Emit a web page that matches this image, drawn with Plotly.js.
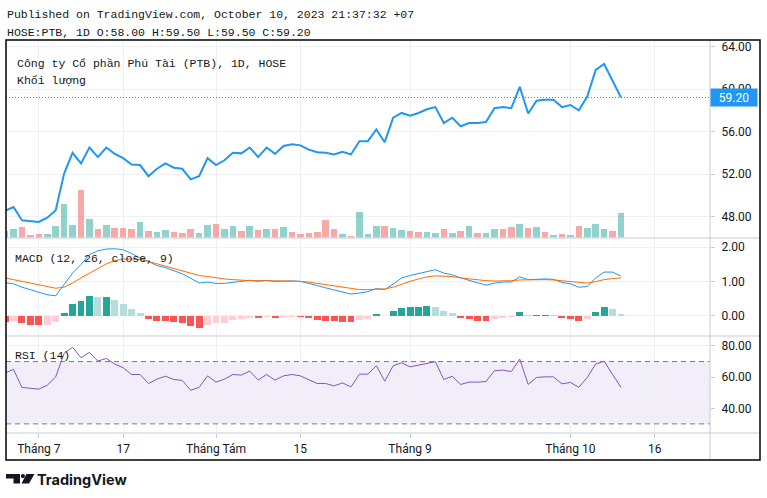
<!DOCTYPE html>
<html><head><meta charset="utf-8">
<script src="https://cdn.plot.ly/plotly-3.0.1.min.js"></script>
<style>html,body{margin:0;padding:0;background:#fff}#chart{width:767px;height:498px}</style>
</head><body><div id="chart"></div>
<script>
// ---- data (bar index 0 = 27 Jun 2023 ... 73 = 10 Oct 2023) ----
const closes = [48.55,48.9,47.65,47.55,47.5,47.9,48.6,52.05,54.0,53.0,
  54.5,53.6,54.5,53.9,53.5,52.9,52.85,51.8,52.5,53.0,
  52.6,52.5,51.5,51.8,53.5,52.85,53.3,54.0,53.95,54.5,
  53.6,54.5,53.9,54.65,54.8,54.7,54.3,54.05,54.0,53.85,
  54.1,53.85,55.1,55.1,56.2,55.0,57.3,57.75,57.5,57.75,
  58.1,58.3,56.8,57.3,56.5,56.8,56.8,56.9,58.2,58.3,
  58.2,60.2,57.7,58.9,59.0,59.0,58.3,58.5,58.0,59.3,
  61.8,62.35,60.75,59.2];
const volumes = [200,280,340,100,130,130,370,1030,400,1450,
  580,280,400,310,310,280,490,220,190,250,
  190,160,280,160,400,430,280,370,220,370,
  250,280,280,340,190,130,160,190,550,280,
  130,70,790,130,370,370,310,250,220,190,
  190,160,280,160,220,370,160,160,280,280,
  340,430,310,340,190,100,130,100,370,310,
  430,280,220,760];
const volumeDir = [1,1,-1,-1,-1,1,1,1,1,-1,
  1,-1,1,-1,-1,-1,1,-1,1,1,
  -1,-1,-1,1,1,-1,1,1,-1,1,
  -1,1,-1,1,-1,-1,-1,-1,-1,-1,
  1,-1,1,1,1,-1,1,1,-1,-1,
  1,1,-1,1,-1,1,-1,1,1,-1,
  -1,1,-1,1,-1,1,-1,1,-1,1,
  1,1,-1,1];
const macdLine = [0.96,0.93,0.83,0.76,0.68,0.61,0.58,0.90,1.24,1.49,
  1.78,1.89,1.94,1.95,1.92,1.81,1.68,1.58,1.46,1.40,
  1.32,1.22,1.09,0.95,0.98,0.94,0.94,0.97,0.99,1.03,
  1.00,1.03,1.00,1.01,1.01,1.00,0.95,0.88,0.81,0.75,
  0.69,0.63,0.66,0.70,0.79,0.76,0.92,1.10,1.17,1.23,
  1.29,1.34,1.24,1.19,1.10,1.03,0.95,0.89,0.95,0.98,
  0.98,1.13,1.05,1.07,1.07,1.06,0.97,0.93,0.83,0.85,
  1.10,1.27,1.27,1.15];
const signalLine = [1.10,1.05,1.00,0.94,0.89,0.83,0.80,0.83,0.95,1.10,
  1.24,1.39,1.51,1.60,1.65,1.65,1.63,1.58,1.51,1.44,
  1.36,1.29,1.22,1.17,1.14,1.10,1.07,1.05,1.03,1.02,
  1.02,1.01,1.01,1.01,1.01,1.00,0.98,0.94,0.90,0.86,
  0.82,0.78,0.76,0.76,0.76,0.78,0.83,0.92,1.00,1.07,
  1.13,1.16,1.16,1.14,1.10,1.07,1.04,1.02,1.01,1.01,
  1.02,1.04,1.05,1.05,1.05,1.04,1.02,0.99,0.96,0.95,
  0.99,1.05,1.08,1.10];
const macdHist = [-0.17,-0.15,-0.21,-0.26,-0.27,-0.26,-0.19,0.09,0.35,0.44,
  0.56,0.54,0.55,0.47,0.35,0.20,0.09,-0.10,-0.16,-0.165,
  -0.18,-0.21,-0.30,-0.35,-0.27,-0.22,-0.21,-0.13,-0.10,-0.07,
  -0.075,-0.04,-0.07,-0.045,-0.04,-0.045,-0.07,-0.13,-0.16,-0.165,
  -0.18,-0.19,-0.12,-0.10,0.05,-0.02,0.135,0.21,0.26,0.265,
  0.28,0.26,0.135,0.07,-0.07,-0.10,-0.155,-0.16,-0.10,-0.07,
  -0.04,0.105,0.02,0.025,0.03,0.02,-0.07,-0.10,-0.155,-0.10,
  0.105,0.25,0.19,0.05];
const rsi = [62.6,65.0,53.4,52.7,52.3,54.8,60.2,75.3,79.2,72.5,
  75.9,70.3,72.0,68.4,66.0,61.7,61.7,55.9,58.7,60.6,
  58.5,57.9,51.6,53.4,60.8,56.8,58.7,61.7,61.3,63.9,
  58.1,61.7,58.1,60.8,61.7,60.8,58.1,55.9,55.9,54.4,
  56.3,53.7,61.9,61.9,67.3,57.4,67.3,69.2,66.6,67.7,
  69.0,69.9,58.5,60.6,55.3,56.8,56.8,57.2,64.1,64.5,
  63.6,71.6,55.3,59.8,60.2,60.2,55.7,56.6,53.5,59.8,
  68.4,70.3,61.7,53.4];
const tickIndex = [4,14,25,35,48,67,77];
const tickLabels = ['Tháng 7','17','Tháng Tám','15','Tháng 9','Tháng 10','16'];
const priceTicks = [48,52,56,60,64];
const macdTicks = [0,1,2];
const rsiTicks = [40,60,80];
const rsiBand = [30,70];
const lastClose = 59.20;
const headerLine1 = 'Published on TradingView.com, October 10, 2023 21:37:32 +07';
const headerLine2 = 'HOSE:PTB, 1D O:58.00 H:59.50 L:59.50 C:59.20';
const legendTitle = 'C\u00f4ng ty C\u1ed5 ph\u1ea7n Ph\u00fa T\u00e0i (PTB), 1D, HOSE';
const legendVolume = 'Kh\u1ed1i l\u01b0\u1ee3ng';
const macdTitle = 'MACD (12, 26, close, 9)';
const rsiTitle = 'RSI (14)';

// ---- helpers ----
const idx = closes.map((_, i) => i);
const L = 6, R = 710, T = 40, B = 433;
const px = x => (x - L) / (R - L);
const py = y => (B - y) / (B - T);
const mono = 'Liberation Mono, DejaVu Sans Mono, monospace';
const textCol = '#131722';
const gridCol = '#eef0f4';

const volColors = volumeDir.map(d => d > 0 ? 'rgba(38,166,154,0.5)' : 'rgba(239,83,80,0.5)');
const histColors = macdHist.map((v, i) => {
  const prev = i === 0 ? v + 0.01 : macdHist[i - 1];
  if (v >= 0) return v >= prev ? '#26a69a' : '#b2dfdb';
  return v < prev ? '#ff5252' : '#ffcdd2';
});

const traces = [
  {type: 'bar', x: idx, y: volumes, xaxis: 'x', yaxis: 'y', width: 0.78,
   marker: {color: volColors, line: {width: 0}}, hoverinfo: 'skip'},
  {type: 'scatter', mode: 'lines', x: idx, y: closes, xaxis: 'x', yaxis: 'y2',
   line: {color: '#2196f3', width: 2}, hoverinfo: 'skip'},
  {type: 'bar', x: idx, y: macdHist, xaxis: 'x', yaxis: 'y3', width: 0.82,
   marker: {color: histColors, line: {width: 0}}, hoverinfo: 'skip'},
  {type: 'scatter', mode: 'lines', x: idx, y: macdLine, xaxis: 'x', yaxis: 'y3',
   line: {color: '#2196f3', width: 1}, hoverinfo: 'skip'},
  {type: 'scatter', mode: 'lines', x: idx, y: signalLine, xaxis: 'x', yaxis: 'y3',
   line: {color: '#ff6d00', width: 1}, hoverinfo: 'skip'},
  {type: 'scatter', mode: 'lines', x: idx, y: rsi, xaxis: 'x', yaxis: 'y4',
   line: {color: '#7e57c2', width: 1}, hoverinfo: 'skip'}
];

const rightAxis = {
  side: 'right', anchor: 'x', showgrid: true, gridcolor: gridCol, gridwidth: 1,
  zeroline: false, showline: false, ticks: 'outside', ticklen: 4, tickcolor: '#c9ccd3',
  tickformat: '.2f', ticklabelstandoff: 4,
  tickfont: {family: 'Roboto, sans-serif', size: 12, color: textCol}, fixedrange: true
};

const shapes = [
  {type: 'rect', xref: 'paper', yref: 'y4', x0: 0, x1: 1, y0: rsiBand[0], y1: rsiBand[1],
   fillcolor: 'rgba(126,87,194,0.1)', line: {width: 0}, layer: 'below'},
  {type: 'line', xref: 'paper', yref: 'y4', x0: 0, x1: 1, y0: rsiBand[1], y1: rsiBand[1],
   line: {color: '#787b86', width: 1, dash: '5px,4px'}},
  {type: 'line', xref: 'paper', yref: 'y4', x0: 0, x1: 1, y0: rsiBand[0], y1: rsiBand[0],
   line: {color: '#787b86', width: 1, dash: '5px,4px'}},
  {type: 'line', xref: 'paper', yref: 'y2', x0: 0, x1: 1, y0: lastClose, y1: lastClose,
   line: {color: '#2196f3', width: 1, dash: '1px,2px'}},
  {type: 'line', xref: 'paper', yref: 'paper', x0: 0, x1: px(760), y0: py(238), y1: py(238),
   line: {color: '#dadde3', width: 1.5}},
  {type: 'line', xref: 'paper', yref: 'paper', x0: 0, x1: px(760), y0: py(336), y1: py(336),
   line: {color: '#dadde3', width: 1.5}},
  {type: 'line', xref: 'paper', yref: 'paper', x0: 0, x1: px(760), y0: py(433), y1: py(433),
   line: {color: '#dadde3', width: 1.5}},
  {type: 'line', xref: 'paper', yref: 'paper', x0: 1, x1: 1, y0: py(40), y1: py(460),
   line: {color: '#c9ccd3', width: 1}},
  {type: 'rect', xref: 'paper', yref: 'paper', x0: px(6), x1: px(760), y0: py(40), y1: py(460),
   line: {color: '#000000', width: 1.5}, fillcolor: 'rgba(0,0,0,0)'},
  {type: 'path', xref: 'paper', yref: 'paper',
   path: `M${px(6)},${py(474)} L${px(20)},${py(474)} L${px(20)},${py(483.5)} L${px(13.5)},${py(483.5)} L${px(13.5)},${py(478.5)} L${px(6)},${py(478.5)} Z`,
   fillcolor: textCol, line: {width: 0}},
  {type: 'circle', xref: 'paper', yref: 'paper', x0: px(20.8), x1: px(25), y0: py(474), y1: py(478.2),
   fillcolor: textCol, line: {width: 0}},
  {type: 'path', xref: 'paper', yref: 'paper',
   path: `M${px(26.5)},${py(474)} L${px(34.5)},${py(474)} L${px(29)},${py(483.5)} L${px(21.5)},${py(483.5)} Z`,
   fillcolor: textCol, line: {width: 0}}
];

const ann = (x, y, text, font, extra) => Object.assign({
  xref: 'paper', yref: 'paper', x: px(x), y: py(y), xanchor: 'left', yanchor: 'middle',
  text: text, showarrow: false, font: font
}, extra || {});
const monoFont = {family: mono, size: 11.5, color: textCol};

const annotations = [
  ann(5, 15, headerLine1, monoFont),
  ann(5, 32, headerLine2, monoFont),
  ann(15, 63, legendTitle, monoFont),
  ann(15, 80, legendVolume, monoFont),
  ann(13, 258, macdTitle, monoFont),
  ann(13, 355, rsiTitle, monoFont),
  ann(35, 479, '<b>TradingView</b>', {family: 'Inter, Roboto, sans-serif', size: 14.5, color: textCol}),
  {xref: 'paper', yref: 'y2', x: 1, y: lastClose, xanchor: 'left', yanchor: 'middle',
   text: lastClose.toFixed(2), showarrow: false, bgcolor: '#2196f3', width: 44, height: 15, borderpad: 1,
   font: {family: 'Roboto, sans-serif', size: 12, color: '#ffffff'}}
];

const layout = {
  width: 767, height: 498,
  margin: {l: L, r: 767 - R, t: T, b: 498 - B, pad: 0},
  paper_bgcolor: '#ffffff', plot_bgcolor: '#ffffff',
  showlegend: false, hovermode: false, bargap: 0,
  font: {family: 'Roboto, sans-serif', size: 12, color: textCol},
  xaxis: {range: [0.11, 83.55], anchor: 'y4', tickmode: 'array', tickvals: tickIndex, ticktext: tickLabels,
    showgrid: true, gridcolor: gridCol, gridwidth: 1, zeroline: false, showline: false,
    ticks: 'outside', ticklen: 4, tickcolor: '#c9ccd3', ticklabelstandoff: 1,
    tickfont: {family: 'Roboto, sans-serif', size: 12, color: textCol}, fixedrange: true},
  yaxis: {domain: [py(238), 1], range: [0, 6000], visible: false, showgrid: false, fixedrange: true},
  yaxis2: Object.assign({}, rightAxis, {overlaying: 'y', range: [45.99, 64.61], tickmode: 'array', tickvals: priceTicks}),
  yaxis3: Object.assign({}, rightAxis, {domain: [py(336), py(238)], range: [-0.591, 2.262], tickmode: 'array', tickvals: macdTicks}),
  yaxis4: Object.assign({}, rightAxis, {domain: [0, py(336)], range: [24.15, 86.4], tickmode: 'array', tickvals: rsiTicks}),
  shapes: shapes,
  annotations: annotations
};

Plotly.newPlot('chart', traces, layout, {staticPlot: true, displayModeBar: false});
</script>
</body></html>
